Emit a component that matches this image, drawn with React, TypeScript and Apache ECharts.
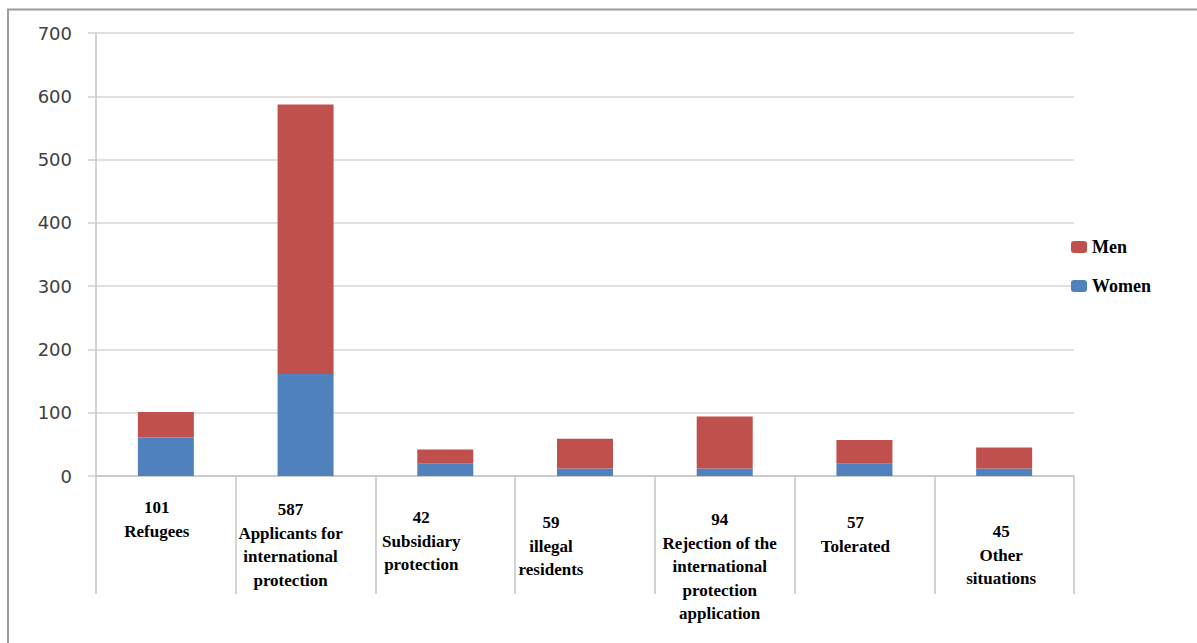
import React, { useEffect, useRef } from "react";
import * as echarts from "echarts";

const categories = [
  "Refugees",
  "Applicants for\ninternational\nprotection",
  "Subsidiary\nprotection",
  "illegal\nresidents",
  "Rejection of the\ninternational\nprotection\napplication",
  "Tolerated",
  "Other\nsituations",
];
const totals = [101, 587, 42, 59, 94, 57, 45];
const women = [61, 161, 20, 12, 12, 20, 12];
const men = [40, 426, 22, 47, 82, 37, 33];
const yTicks = [0, 100, 200, 300, 400, 500, 600, 700];

export default function App() {
  const ref = useRef<HTMLDivElement>(null);
  useEffect(() => {
    if (!ref.current) return;
    const chart = echarts.init(ref.current, null, { renderer: "svg" });
    const padTop = [0, 2, 10, 15, 12, 15, 24];
    const shiftLeft = [9, 15, 24, 34, 5, 9, 3];
    const serif = "'Liberation Serif', 'Times New Roman', serif";
    chart.setOption({
      animation: false,
      backgroundColor: "#ffffff",
      graphic: [
        {
          type: "rect",
          shape: { x: 8, y: 9.5, width: 1400, height: 800 },
          style: { fill: "none", stroke: "#9c9c9c", lineWidth: 2 },
          silent: true,
        },
      ],
      legend: {
        orient: "vertical",
        left: 1066,
        top: 233,
        itemWidth: 16,
        itemHeight: 12,
        itemGap: 21,
        data: ["Men", "Women"],
        textStyle: {
          fontFamily: serif,
          fontWeight: "bold",
          fontSize: 18,
          color: "#000",
        },
      },
      grid: { left: 96, right: 123, top: 33, bottom: 167, containLabel: false },
      xAxis: {
        type: "category",
        data: categories.map((c, i) => ({
          value: c,
          textStyle: { padding: [padTop[i], shiftLeft[i] * 2, 0, 0] },
        })),
        boundaryGap: true,
        axisLine: { lineStyle: { color: "#c4c4c4", width: 1.5 } },
        axisTick: {
          show: true,
          interval: 0,
          length: 118,
          lineStyle: { color: "#c4c4c4", width: 1.5 },
        },
        axisLabel: {
          interval: 0,
          margin: 20,
          fontFamily: serif,
          fontWeight: "bold",
          fontSize: 17,
          lineHeight: 23.5,
          color: "#000",
          verticalAlign: "top",
          formatter: (v: string, i: number) => `${totals[i]}\n${v}`,
        },
      },
      yAxis: {
        type: "value",
        min: yTicks[0],
        max: yTicks[yTicks.length - 1],
        interval: 100,
        axisLine: { show: true, lineStyle: { color: "#c4c4c4", width: 1.5 } },
        axisTick: { show: true, length: 8, lineStyle: { color: "#cfcfcf", width: 1.5 } },
        splitLine: { lineStyle: { color: "#d6d6d6", width: 1.5 } },
        axisLabel: {
          margin: 24,
          fontFamily: "'DejaVu Sans', Verdana, sans-serif",
          fontSize: 18,
          color: "#404040",
        },
      },
      series: [
        {
          name: "Women",
          type: "bar",
          stack: "total",
          data: women,
          barWidth: 56,
          itemStyle: { color: "#4f81bd" },
        },
        {
          name: "Men",
          type: "bar",
          stack: "total",
          data: men,
          barWidth: 56,
          itemStyle: { color: "#c0504d" },
        },
      ],
    });
    return () => chart.dispose();
  }, []);
  return (
    <div
      ref={ref}
      style={{ position: "fixed", left: 0, top: 0, width: 1197, height: 643, background: "#fff" }}
    />
  );
}
